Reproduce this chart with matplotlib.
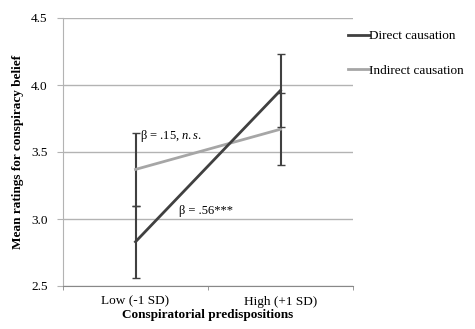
import matplotlib.pyplot as plt
from matplotlib.lines import Line2D

plt.rcParams['font.family'] = ['Liberation Serif', 'DejaVu Serif']
plt.rcParams['mathtext.fontset'] = 'custom'
plt.rcParams['mathtext.rm'] = 'Liberation Serif'
plt.rcParams['mathtext.it'] = 'Liberation Serif:italic'

groups = ['Low (-1 SD)', 'High (+1 SD)']
direct = [2.83, 3.96]
direct_err = [0.27, 0.27]
indirect = [3.37, 3.67]
indirect_err = [0.27, 0.27]

dark, light = '#404040', '#a6a6a6'

fig = plt.figure(figsize=(4.75, 3.29), dpi=100)
ax = fig.add_axes([63 / 475, 43 / 329, 290 / 475, 268 / 329])

x = list(range(len(groups)))
ax.errorbar(x, direct, yerr=direct_err, color=dark, lw=2, ecolor=dark,
            elinewidth=1.5, capsize=3, capthick=1, zorder=3)
ax.errorbar(x, indirect, yerr=indirect_err, color=light, lw=2, ecolor=dark,
            elinewidth=1.5, capsize=3, capthick=1, zorder=2)

ax.set_xlim(-0.5, 1.5)
ax.set_ylim(2.5, 4.5)
ax.set_yticks([2.5, 3.0, 3.5, 4.0, 4.5])
ax.set_yticklabels(['2.5', '3.0', '3.5', '4.0', '4.5'])
ax.yaxis.grid(True, color='#b3b3b3', lw=1)
ax.set_axisbelow(True)
ax.set_xticks(x)
ax.set_xticklabels(groups)
ax.set_xticks([-0.5, 0.5, 1.5], minor=True)
ax.tick_params(axis='x', which='major', length=0, labelsize=9.5, pad=7)
ax.tick_params(axis='x', which='minor', length=3, color='#888888')
ax.tick_params(axis='y', length=4, color='#b3b3b3', labelsize=9.5, pad=7)

for side in ['top', 'right']:
    ax.spines[side].set_visible(False)
ax.spines['left'].set_color('#b3b3b3')
ax.spines['bottom'].set_color('#888888')

ax.text(0.03, 3.62, r'β = .15, $\mathit{n.s.}$', fontsize=9, va='center')
ax.text(0.3, 3.06, 'β = .56***', fontsize=9, va='center')

ax.set_ylabel('Mean ratings for conspiracy belief', fontsize=9.5, fontweight='bold', labelpad=5)
ax.set_xlabel('Conspiratorial predispositions', fontsize=9.5, fontweight='bold', labelpad=1)

handles = [Line2D([], [], color=dark, lw=2), Line2D([], [], color=light, lw=2)]
ax.legend(handles, ['Direct causation', 'Indirect causation'], loc='upper left',
          bbox_to_anchor=(0.965, 0.975), frameon=False, fontsize=9.5,
          handlelength=1.6, handletextpad=0.0, labelspacing=1.7, borderaxespad=0)

fig.savefig('out.png', dpi=100)
